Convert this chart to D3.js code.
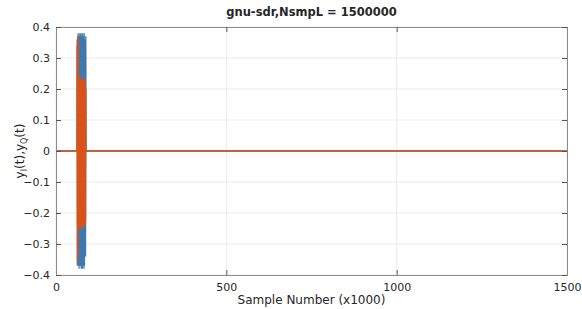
<!DOCTYPE html>
<html>
<head>
<meta charset="utf-8">
<script src="https://cdn.jsdelivr.net/npm/d3@7"></script>
<style>
  body { margin: 0; background: #fff; }
  text { font-family: "DejaVu Sans", sans-serif; fill: #262626; }
</style>
</head>
<body>
<div id="chart"></div>
<script>
var width = 582,
    height = 309;

// sample index in thousands
var sampleK = [0, 61.5, 62.0, 62.8, 63.6, 64.4, 65.2, 66.0, 66.8, 67.6, 68.4, 69.2, 70.0, 70.8, 71.6,
  72.4, 73.2, 74.0, 74.8, 75.6, 76.4, 77.2, 78.0, 78.8, 79.6, 80.4, 81.2, 82.0, 82.8, 83.6,
  84.4, 85.2, 86.0, 86.8, 87.6, 88.2, 1500];
var yI = [0, 0, 0.36, -0.37, 0.37, -0.36, 0.38, -0.37, 0.35, -0.38, 0.37, -0.36, 0.38, -0.37, 0.23,
  -0.36, 0.38, -0.38, 0.37, -0.37, 0.36, -0.38, 0.38, -0.36, 0.37, -0.37, 0.35, -0.38, 0.38, -0.37,
  0.36, -0.18, 0.2, -0.34, 0.37, 0, 0];
var yQ = [0, 0, 0.34, -0.36, 0.37, -0.33, 0.36, -0.25, 0.23, -0.24, 0.23, -0.23, 0.24, -0.25, 0.23,
  -0.24, 0.23, -0.25, 0.22, -0.24, 0.23, -0.23, 0.24, -0.24, 0.22, -0.25, 0.23, -0.23, 0.22, -0.24,
  0.23, -0.24, 0.22, -0.23, 0.2, 0, 0];
var xTicks = [0, 500, 1000, 1500];
var yTicks = [-0.4, -0.3, -0.2, -0.1, 0, 0.1, 0.2, 0.3, 0.4];

var margin = {left: 56, right: 15, top: 27, bottom: 34};

var svg = d3.select("#chart").append("svg").attr("width", width).attr("height", height);

var x = d3.scaleLinear().domain([0, 1500]).range([margin.left, width - margin.right]);
var y = d3.scaleLinear().domain([-0.4, 0.4]).range([height - margin.bottom, margin.top]);

// grid
svg.append("g").selectAll("line").data(xTicks).enter().append("line")
  .attr("x1", function(d) { return x(d); }).attr("x2", function(d) { return x(d); })
  .attr("y1", y(-0.4)).attr("y2", y(0.4))
  .attr("stroke", "#ebebeb").attr("stroke-width", 1);
svg.append("g").selectAll("line").data(yTicks).enter().append("line")
  .attr("y1", function(d) { return y(d); }).attr("y2", function(d) { return y(d); })
  .attr("x1", x(0)).attr("x2", x(1500))
  .attr("stroke", "#ebebeb").attr("stroke-width", 1);

var line = function(vals) {
  return d3.line()
    .x(function(d, i) { return x(sampleK[i]); })
    .y(function(d) { return y(d); })(vals);
};

svg.append("path").attr("d", line(yI))
  .attr("fill", "none").attr("stroke", "#3f78ad").attr("stroke-width", 1.3);
svg.append("path").attr("d", line(yQ))
  .attr("fill", "none").attr("stroke", "#d95319").attr("stroke-width", 1.3);

// axes (ticks inward, box all round)
var axisColor = "#8c8c8c";
var gBottom = svg.append("g").attr("transform", "translate(0," + y(-0.4) + ")")
  .call(d3.axisBottom(x).tickValues(xTicks).tickSize(-5).tickPadding(8).tickFormat(d3.format("d")));
var gTop = svg.append("g").attr("transform", "translate(0," + y(0.4) + ")")
  .call(d3.axisTop(x).tickValues(xTicks).tickSize(-5).tickFormat(""));
var gLeft = svg.append("g").attr("transform", "translate(" + x(0) + ",0)")
  .call(d3.axisLeft(y).tickValues(yTicks).tickSize(-5).tickPadding(6)
    .tickFormat(function(d) { return d === 0 ? "0" : d3.format(".1f")(d); }));
var gRight = svg.append("g").attr("transform", "translate(" + x(1500) + ",0)")
  .call(d3.axisRight(y).tickValues(yTicks).tickSize(-5).tickFormat(""));

[gBottom, gTop, gLeft, gRight].forEach(function(g) {
  g.select(".domain").attr("stroke", axisColor);
  g.selectAll(".tick line").attr("stroke", "#555");
  g.selectAll("text").attr("font-size", 11).attr("font-family", "DejaVu Sans, sans-serif").attr("fill", "#262626");
});

svg.append("text")
  .attr("x", (x(0) + x(1500)) / 2).attr("y", 16)
  .attr("text-anchor", "middle").attr("font-size", 11.5).attr("font-weight", "bold")
  .attr("fill", "#000")
  .text("gnu-sdr,NsmpL = 1500000");

svg.append("text")
  .attr("x", (x(0) + x(1500)) / 2).attr("y", 304)
  .attr("text-anchor", "middle").attr("font-size", 12)
  .text("Sample Number (x1000)");

var yl = svg.append("text")
  .attr("transform", "translate(24," + y(0) + ") rotate(-90)")
  .attr("text-anchor", "middle").attr("font-size", 12);
yl.append("tspan").text("y");
yl.append("tspan").attr("font-size", 8).attr("dy", 3).text("I");
yl.append("tspan").attr("dy", -3).text("(t),y");
yl.append("tspan").attr("font-size", 8).attr("dy", 3).text("Q");
yl.append("tspan").attr("dy", -3).text("(t)");
</script>
</body>
</html>
